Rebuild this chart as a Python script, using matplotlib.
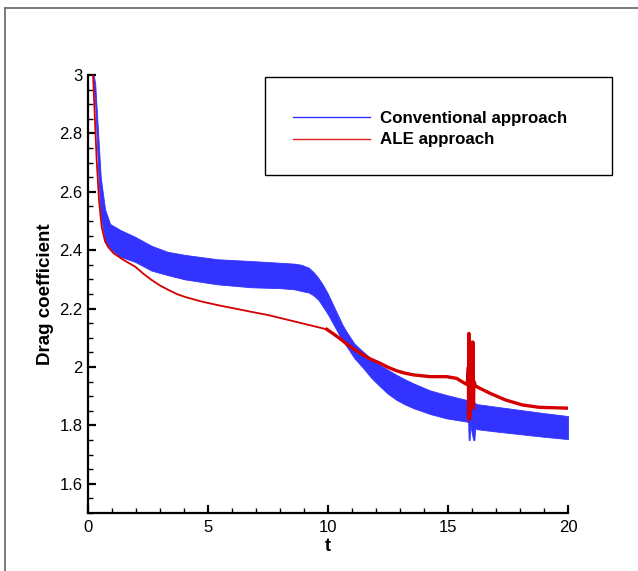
import matplotlib
matplotlib.use("Agg")
import matplotlib.pyplot as plt
from matplotlib.lines import Line2D
from matplotlib.patches import Rectangle
from matplotlib.ticker import MultipleLocator

plt.rcParams['font.family'] = ['Liberation Sans', 'DejaVu Sans']

# Conventional approach: oscillation envelope (upper / lower)
t_conv = [0.2, 0.3, 0.43, 0.53, 0.71, 0.92, 1.33, 1.96, 2.65, 3.3, 4.04, 5.4, 6.8,
          8.0, 8.6, 8.9, 9.2, 9.4, 9.6, 9.8, 10.0, 10.2, 10.4, 10.6, 10.78, 11.1,
          11.47, 11.8, 12.17, 12.5, 12.86, 13.2, 13.56, 14.25, 14.94, 15.78, 15.84,
          15.86, 15.9, 15.93, 16.05, 16.1, 16.13, 16.2, 17.0, 18.0, 19.0, 20.0]
conv_upper = [3.02, 2.97, 2.79, 2.65, 2.54, 2.49, 2.47, 2.446, 2.415, 2.395, 2.384,
              2.369, 2.363, 2.357, 2.354, 2.35, 2.34, 2.325, 2.305, 2.28, 2.25, 2.215,
              2.18, 2.145, 2.12, 2.08, 2.052, 2.028, 2.007, 1.99, 1.973, 1.958, 1.944,
              1.92, 1.904, 1.887, 1.885, 2.08, 2.08, 1.89, 1.88, 1.88, 1.876, 1.873,
              1.864, 1.853, 1.842, 1.832]
conv_lower = [3.0, 2.90, 2.66, 2.52, 2.43, 2.406, 2.378, 2.36, 2.33, 2.315, 2.30,
              2.283, 2.273, 2.27, 2.266, 2.26, 2.255, 2.245, 2.23, 2.205, 2.18, 2.15,
              2.12, 2.09, 2.07, 2.03, 1.996, 1.963, 1.933, 1.908, 1.887, 1.872, 1.859,
              1.839, 1.824, 1.813, 1.812, 1.75, 1.75, 1.80, 1.75, 1.75, 1.79, 1.787,
              1.779, 1.77, 1.761, 1.753]

# ALE approach
t_ale = [0.2, 0.36, 0.46, 0.57, 0.71, 0.85, 1.06, 1.47, 1.96, 2.3, 2.65, 3.0, 3.35,
         3.7, 4.04, 4.74, 5.4, 6.13, 6.8, 7.5, 8.2, 8.9, 9.5, 9.95, 10.2, 10.5, 10.78,
         11.1, 11.47, 11.8, 12.17, 12.5, 12.86, 13.2, 13.56, 14.25, 14.94, 15.36,
         15.7, 15.8, 15.85, 15.86, 15.87, 15.88, 15.9, 15.92, 15.94, 15.96, 16.0,
         16.02, 16.04, 16.06, 16.08, 16.15, 16.33, 16.75, 17.4, 18.1, 18.8, 20.0]
ale = [3.02, 2.71, 2.57, 2.48, 2.43, 2.41, 2.39, 2.367, 2.344, 2.32, 2.298, 2.279,
       2.264, 2.25, 2.24, 2.224, 2.212, 2.20, 2.189, 2.178, 2.164, 2.15, 2.138, 2.129,
       2.115, 2.097, 2.079, 2.06, 2.041, 2.026, 2.013, 1.999, 1.987, 1.979, 1.973,
       1.967, 1.967, 1.961, 1.944, 1.94, 2.0, 1.83, 2.115, 1.82, 2.02, 1.83, 2.0,
       1.90, 2.085, 1.86, 2.085, 1.86, 1.95, 1.935, 1.927, 1.91, 1.887, 1.87, 1.862,
       1.859]

labels = ["Conventional approach", "ALE approach"]
blue = "#3333ff"
red = "#d40000"

fig = plt.figure(figsize=(6.38, 5.71), dpi=100)
ax = fig.add_axes([88/638, 1-513/571, 480/638, 438/571])

ax.fill_between(t_conv, conv_lower, conv_upper, color=blue, lw=0.6, edgecolor=blue)
split = t_ale.index(9.95)
ax.plot(t_ale[:split+1], ale[:split+1], color=red, lw=1.3, solid_joinstyle='round')
ax.plot(t_ale[split:], ale[split:], color=red, lw=2.4, solid_joinstyle='round')

ax.set_xlim(0, 20)
ax.set_ylim(1.5, 3.0)
ax.xaxis.set_minor_locator(MultipleLocator(1))
ax.yaxis.set_minor_locator(MultipleLocator(0.05))
ax.set_yticks([1.6, 1.8, 2.0, 2.2, 2.4, 2.6, 2.8, 3.0])
ax.set_yticklabels(["1.6", "1.8", "2", "2.2", "2.4", "2.6", "2.8", "3"])
ax.set_xticks([0, 5, 10, 15, 20])
ax.set_xticklabels(["0", "5", "10", "15", "20"])

for s in ["top", "right"]:
    ax.spines[s].set_visible(False)
for s in ["left", "bottom"]:
    ax.spines[s].set_linewidth(1.6)
ax.tick_params(which="major", direction="in", length=6, width=1.6, labelsize=12, pad=4)
ax.tick_params(which="minor", direction="in", length=3.5, width=1.0)
ax.tick_params(axis="x", which="major", pad=5)

ax.set_xlabel("t", fontsize=13, fontweight="bold", labelpad=2)
ax.set_ylabel("Drag coefficient", fontsize=13.5, fontweight="bold", labelpad=4)

# legend box
fig.add_artist(Rectangle((265/638, 1-175/571), 347/638, 98/571, transform=fig.transFigure,
                         fill=False, ec="black", lw=1.0))
handles = [Line2D([], [], color=blue, lw=1.0), Line2D([], [], color="#e02020", lw=1.0)]
fig.legend(handles, labels, loc="upper left", bbox_to_anchor=(293/638, 1-111/571),
           frameon=False, borderpad=0, borderaxespad=0, handlelength=4.55,
           handletextpad=0.6, labelspacing=0.38, prop={"weight": "bold", "size": 12.2})

# figure border (left and top)
fig.add_artist(Line2D([4.5/638, 4.5/638], [0, 1-8/571], transform=fig.transFigure,
                      color="#666666", lw=1.2))
fig.add_artist(Line2D([4.5/638, 1], [1-8/571, 1-8/571], transform=fig.transFigure,
                      color="#666666", lw=1.2))

fig.savefig("out.png", dpi=100)
